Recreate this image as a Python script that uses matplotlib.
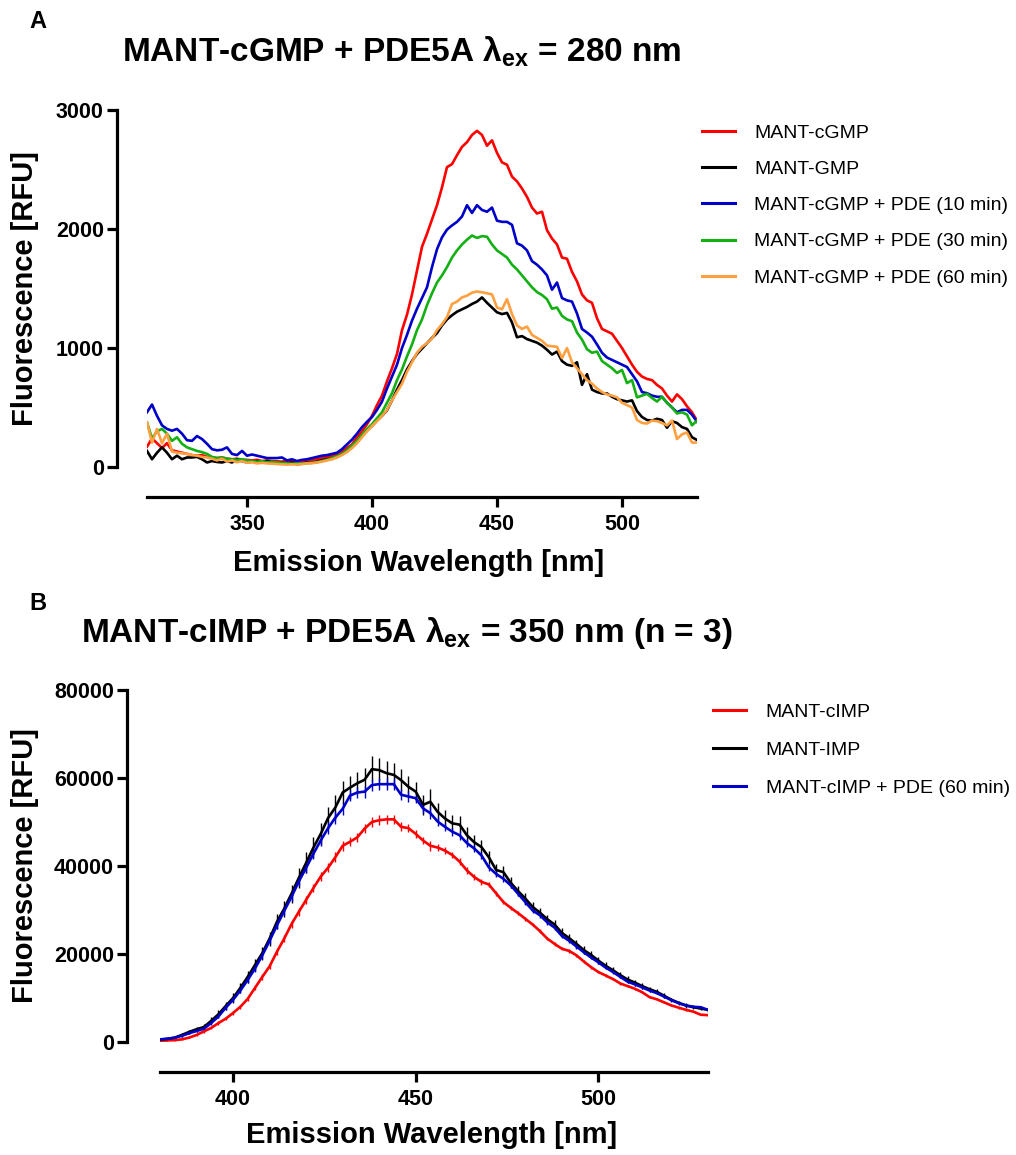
import matplotlib
matplotlib.use("Agg")
import matplotlib.pyplot as plt
from matplotlib.lines import Line2D

# ---------------- data: panel A (MANT-cGMP, ex 280 nm) ----------------
wavelength_a = list(range(310, 532, 2))
mant_cgmp = [170, 240, 200, 160, 200, 140, 130, 120, 110, 100,
             95, 100, 85, 80, 75, 80, 70, 65, 70, 60,
             60, 55, 60, 50, 55, 50, 48, 45, 50, 45,
             48, 50, 55, 60, 65, 75, 85, 95, 105, 130,
             160, 190, 250, 300, 360, 430, 520, 600, 720, 830,
             950, 1150, 1280, 1450, 1650, 1850, 1960, 2080, 2200, 2350,
             2520, 2545, 2620, 2690, 2730, 2790, 2825, 2790, 2700, 2745,
             2640, 2560, 2540, 2440, 2400, 2340, 2270, 2180, 2130, 2145,
             1990, 1920, 1870, 1760, 1750, 1640, 1560, 1450, 1400, 1380,
             1250, 1160, 1140, 1120, 1060, 1000, 930, 860, 800, 760,
             740, 730, 690, 660, 600, 550, 610, 570, 510, 460, 390]
mant_gmp = [135, 65, 120, 165, 120, 65, 95, 65, 80, 80,
            85, 65, 38, 50, 42, 38, 50, 38, 65, 50,
            38, 45, 50, 38, 50, 38, 28, 38, 28, 38,
            23, 28, 37, 37, 45, 57, 65, 74, 85, 108,
            136, 164, 207, 263, 306, 345, 390, 430, 476, 560,
            650, 730, 820, 890, 950, 995, 1040, 1085, 1125, 1190,
            1240, 1275, 1305, 1325, 1345, 1370, 1390, 1425, 1380, 1340,
            1300, 1285, 1295, 1215, 1090, 1100, 1075, 1060, 1045, 1020,
            985, 945, 970, 890, 860, 850, 880, 690, 780, 650,
            630, 618, 618, 590, 570, 560, 550, 560, 470, 420,
            395, 390, 405, 395, 330, 385, 370, 335, 320, 250, 227]
pde_10min = [460, 525, 430, 350, 320, 305, 320, 280, 225, 220,
             260, 235, 195, 150, 140, 145, 165, 110, 100, 135,
             95, 105, 95, 85, 75, 75, 75, 80, 55, 65,
             50, 60, 65, 75, 85, 95, 100, 110, 120, 150,
             190, 230, 280, 335, 380, 420, 480, 550, 660, 760,
             860, 1000, 1110, 1230, 1330, 1420, 1510, 1680, 1830, 1930,
             1995, 2030, 2060, 2105, 2200, 2135, 2200, 2160, 2145, 2180,
             2070, 2060, 2060, 2035, 1880, 1860, 1820, 1730, 1700, 1660,
             1610, 1490, 1550, 1420, 1400, 1390, 1290, 1160, 1130, 1095,
             1030, 960, 920, 900, 880, 860, 840, 780, 720, 630,
             620, 600, 590, 590, 540, 500, 460, 480, 480, 440, 380]
pde_30min = [375, 240, 300, 320, 280, 220, 250, 195, 165, 150,
             135, 125, 110, 85, 75, 80, 70, 65, 60, 65,
             55, 50, 45, 48, 40, 42, 38, 35, 30, 28,
             30, 28, 32, 35, 40, 50, 60, 75, 90, 110,
             140, 180, 220, 270, 320, 360, 410, 460, 540, 620,
             730, 820, 930, 1030, 1150, 1240, 1360, 1460, 1550, 1610,
             1680, 1760, 1820, 1870, 1910, 1945, 1925, 1940, 1935, 1870,
             1820, 1790, 1760, 1700, 1660, 1610, 1560, 1510, 1470, 1445,
             1410, 1330, 1340, 1270, 1240, 1225, 1130, 1070, 990, 960,
             970, 890, 860, 830, 790, 815, 705, 730, 585, 600,
             615, 580, 550, 590, 540, 500, 450, 460, 440, 350, 390]
pde_60min = [375, 205, 320, 200, 280, 130, 120, 115, 110, 100,
             95, 85, 80, 70, 55, 70, 45, 55, 40, 50,
             35, 40, 30, 35, 30, 28, 25, 22, 20, 22,
             20, 25, 30, 32, 38, 45, 55, 65, 80, 100,
             125, 160, 200, 250, 300, 345, 385, 430, 480, 560,
             630, 700, 800, 880, 960, 1010, 1040, 1080, 1150, 1200,
             1260, 1370, 1390, 1425, 1440, 1465, 1475, 1468, 1460, 1450,
             1340, 1325, 1410, 1285, 1190, 1160, 1180, 1110, 1085, 1060,
             1020, 1015, 1010, 915, 1000, 880, 830, 780, 730, 700,
             660, 630, 610, 600, 585, 540, 520, 500, 395, 370,
             365, 390, 385, 370, 350, 390, 235, 275, 290, 205, 205]
labels_a = ["MANT-cGMP", "MANT-GMP", "MANT-cGMP + PDE (10 min)",
            "MANT-cGMP + PDE (30 min)", "MANT-cGMP + PDE (60 min)"]
colors_a = ["#FF0000", "#000000", "#0000C8", "#12B012", "#FFA040"]
xticks_a = [350, 400, 450, 500]
yticks_a = [0, 1000, 2000, 3000]

# ---------------- data: panel B (MANT-cIMP, ex 350 nm, mean +/- SEM) ----------------
wavelength_b = list(range(380, 532, 2))
mant_cimp = [300, 350, 420, 600, 1000, 1600, 2400, 3200, 4300, 5300,
             6600, 8000, 9800, 12300, 14800, 17200, 20500, 23500, 26800, 29600,
             32300, 35000, 37600, 39600, 42000, 44600, 45500, 46500, 48500, 50000,
             50400, 50600, 50600, 48900, 48600, 47300, 45800, 44600, 44200, 43500,
             42500, 41000, 39000, 37500, 36400, 35800, 33800, 31800, 30500, 29300,
             28000, 26700, 25200, 23500, 22300, 21200, 20700, 19700, 18300, 17000,
             15900, 15100, 14300, 13300, 12700, 12100, 11300, 10200, 9700, 9000,
             8300, 7800, 7300, 6900, 6200, 6100]
mant_imp = [500, 700, 1000, 1600, 2300, 2900, 3400, 4800, 6300, 8200,
            10000, 12300, 14800, 17500, 20200, 23500, 27300, 30300, 33700, 37300,
            40700, 44200, 47300, 50900, 53300, 56700, 57800, 58800, 59600, 62000,
            61800, 61100, 60700, 59500, 58000, 56900, 53900, 54600, 52300, 50800,
            49700, 49400, 47000, 45400, 44300, 42000, 39100, 38600, 36200, 34300,
            32600, 30700, 29400, 27900, 26700, 24800, 23600, 22300, 20900, 19800,
            18500, 17300, 16300, 15200, 14200, 13500, 12700, 12000, 11400, 10500,
            9600, 8900, 8300, 7900, 7600, 7300]
cimp_pde = [600, 750, 950, 1400, 2000, 2500, 3000, 4300, 5800, 7800,
            9600, 11700, 14100, 16700, 19700, 23000, 26500, 29800, 33000, 36500,
            39600, 42800, 45800, 48600, 51000, 53000, 56000, 56700, 56900, 58400,
            58600, 58600, 58600, 56200, 55800, 55400, 53100, 52000, 50100, 48900,
            47800, 47000, 45200, 44000, 42400, 39700, 38200, 37100, 35600, 33700,
            31800, 29900, 28800, 27200, 26000, 24100, 23000, 21700, 20400, 19200,
            18100, 16900, 15900, 14800, 13700, 13100, 12400, 11700, 11100, 10300,
            9500, 8800, 8300, 8000, 7900, 7300]
mant_cimp_sem = [80, 100, 120, 160, 200, 240, 280, 320, 360, 400,
                 440, 480, 520, 560, 600, 640, 680, 720, 800, 880,
                 960, 920, 1000, 1040, 1120, 1080, 1040, 1000, 1080, 1160,
                 1120, 1080, 1040, 1000, 960, 920, 880, 1120, 800, 760,
                 760, 800, 720, 680, 640, 600, 560, 520, 520, 480,
                 480, 440, 440, 400, 400, 400, 360, 360, 360, 320,
                 320, 320, 280, 280, 280, 280, 240, 240, 240, 240,
                 200, 200, 200, 160, 160, 160]
mant_imp_sem = [200, 250, 300, 400, 500, 600, 700, 800, 900, 1000,
                1100, 1200, 1300, 1400, 1500, 1600, 1700, 1800, 2000, 2200,
                2400, 2300, 2500, 2600, 2800, 2700, 2600, 2500, 2700, 2900,
                2800, 2700, 2600, 2500, 2400, 2300, 2200, 2800, 2000, 1900,
                1900, 2000, 1800, 1700, 1600, 1500, 1400, 1300, 1300, 1200,
                1200, 1100, 1100, 1000, 1000, 1000, 900, 900, 900, 800,
                800, 800, 700, 700, 700, 700, 600, 600, 600, 600,
                500, 500, 500, 400, 400, 400]
cimp_pde_sem = [100, 120, 150, 200, 250, 300, 350, 400, 450, 500,
                550, 600, 650, 700, 750, 800, 850, 900, 1000, 1100,
                1200, 1150, 1250, 1300, 1400, 1350, 1300, 1250, 1350, 1450,
                1400, 1350, 1300, 1250, 1200, 1150, 1100, 1400, 1000, 950,
                950, 1000, 900, 850, 800, 750, 700, 650, 650, 600,
                600, 550, 550, 500, 500, 500, 450, 450, 450, 400,
                400, 400, 350, 350, 350, 350, 300, 300, 300, 300,
                250, 250, 250, 200, 200, 200]
labels_b = ["MANT-cIMP", "MANT-IMP", "MANT-cIMP + PDE (60 min)"]
colors_b = ["#FF0000", "#000000", "#0000C8"]
xticks_b = [400, 450, 500]
yticks_b = [0, 20000, 40000, 60000, 80000]

# ---------------- styling ----------------
FONT = "Liberation Sans"
plt.rcParams["font.family"] = [FONT, "DejaVu Sans"]
plt.rcParams["mathtext.fontset"] = "custom"
plt.rcParams["mathtext.rm"] = FONT
plt.rcParams["mathtext.bf"] = FONT + ":bold"

W, H = 1016, 1155
PT = 0.72  # points per pixel at dpi 100
fig = plt.figure(figsize=(W / 100, H / 100), dpi=100)


def px_axes(l, t, r, b):
    return fig.add_axes([l / W, 1 - b / H, (r - l) / W, (b - t) / H])


def style(ax, xlim, ylim, xticks, yticks, left_off_px, bottom_off_px):
    ax.set_xlim(*xlim)
    ax.set_ylim(*ylim)
    for s in ("top", "right"):
        ax.spines[s].set_visible(False)
    ax.spines["left"].set_position(("outward", left_off_px * PT))
    ax.spines["bottom"].set_position(("outward", bottom_off_px * PT))
    ax.spines["left"].set_bounds(ylim[0], ylim[1])
    for s in ("left", "bottom"):
        ax.spines[s].set_linewidth(2.3)
        ax.spines[s].set_capstyle("projecting")
    ax.set_xticks(xticks)
    ax.set_yticks(yticks)
    ax.tick_params(axis="both", direction="out", length=7, width=2.3,
                   labelsize=15.5)
    ax.tick_params(axis="y", pad=2.5)
    ax.tick_params(axis="x", pad=5.5)
    for lab in ax.get_xticklabels() + ax.get_yticklabels():
        lab.set_fontweight("bold")
    ax.patch.set_alpha(0)


# ---- panel A ----
axA = px_axes(147, 110, 697, 467)
seriesA = [mant_cgmp, mant_gmp, pde_10min, pde_30min, pde_60min]
for vals, col in zip(seriesA, colors_a):
    axA.plot(wavelength_a, vals, color=col, lw=1.9, solid_joinstyle="round")
style(axA, (310, 530), (0, 3000), xticks_a, yticks_a, 30, 30)

handlesA = [Line2D([], [], color=c, lw=2.2) for c in colors_a]
axA.legend(handlesA, labels_a, loc="upper left",
           bbox_to_anchor=(702 / W, 1 - 124 / H), bbox_transform=fig.transFigure,
           frameon=False, fontsize=14, handlelength=1.7, handletextpad=1.0,
           labelspacing=0.96, borderpad=0, borderaxespad=0)

fig.text(25 / W, 1 - 289 / H, "Fluorescence [RFU]", rotation=90,
         ha="center", va="center", fontsize=21, fontweight="bold")
fig.text(419 / W, 1 - 563 / H, "Emission Wavelength [nm]",
         ha="center", va="center", fontsize=21, fontweight="bold")
fig.text(402 / W, 1 - 52 / H, r"MANT-cGMP + PDE5A λ$_{\mathbf{ex}}$ = 280 nm",
         ha="center", va="center", fontsize=24, fontweight="bold")
fig.text(38 / W, 1 - 22 / H, "A", ha="center", va="center",
         fontsize=17, fontweight="bold")

# ---- panel B ----
axB = px_axes(160, 690, 708, 1042)
seriesB = [(mant_cimp, mant_cimp_sem), (mant_imp, mant_imp_sem),
           (cimp_pde, cimp_pde_sem)]
for (vals, err), col in zip(seriesB, colors_b):
    axB.errorbar(wavelength_b, vals, yerr=err, color=col, lw=1.9,
                 elinewidth=1.0, capsize=0)
style(axB, (380, 530), (0, 80000), xticks_b, yticks_b, 33, 30)

handlesB = [Line2D([], [], color=c, lw=2.2) for c in colors_b]
axB.legend(handlesB, labels_b, loc="upper left",
           bbox_to_anchor=(713 / W, 1 - 703 / H), bbox_transform=fig.transFigure,
           frameon=False, fontsize=14, handlelength=1.7, handletextpad=1.0,
           labelspacing=1.06, borderpad=0, borderaxespad=0)

fig.text(25 / W, 1 - 866 / H, "Fluorescence [RFU]", rotation=90,
         ha="center", va="center", fontsize=21, fontweight="bold")
fig.text(432 / W, 1 - 1135 / H, "Emission Wavelength [nm]",
         ha="center", va="center", fontsize=21, fontweight="bold")
fig.text(407 / W, 1 - 633 / H,
         r"MANT-cIMP + PDE5A λ$_{\mathbf{ex}}$ = 350 nm (n = 3)",
         ha="center", va="center", fontsize=24, fontweight="bold")
fig.text(38 / W, 1 - 603 / H, "B", ha="center", va="center",
         fontsize=17, fontweight="bold")

fig.savefig("out.png", dpi=100)
